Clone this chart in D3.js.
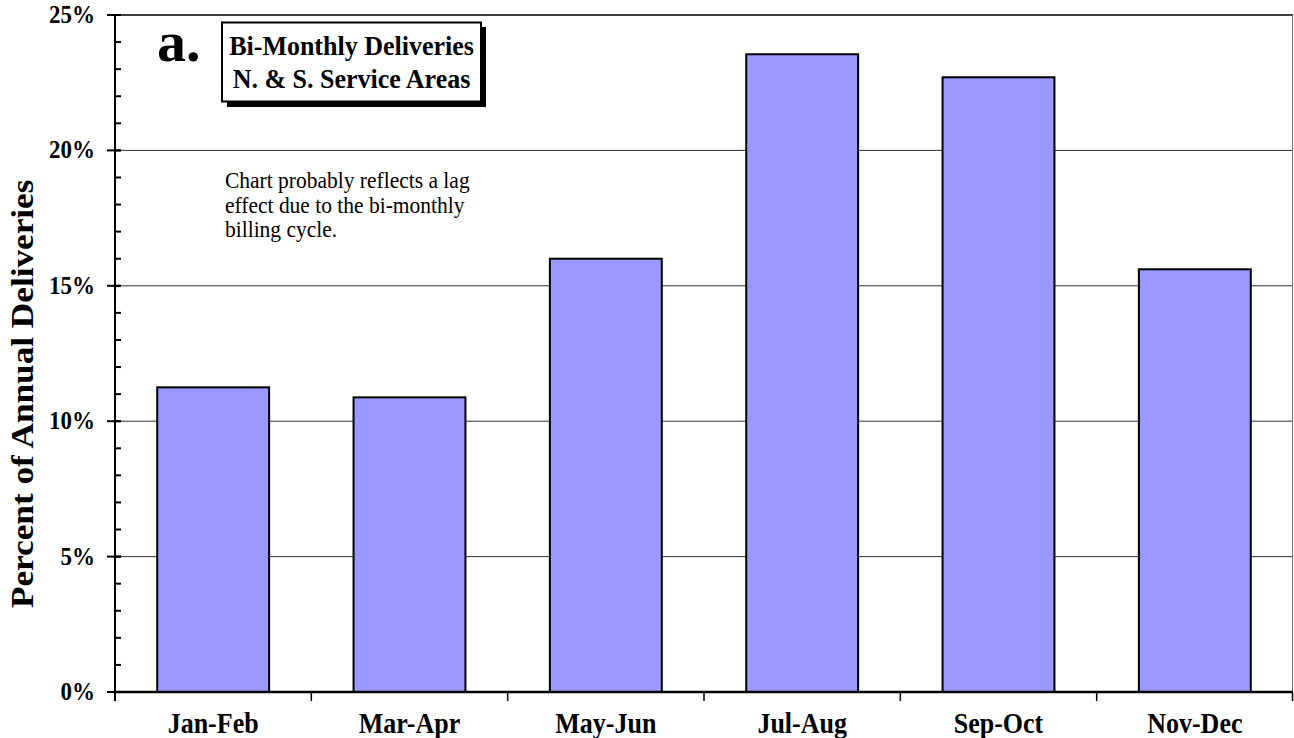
<!DOCTYPE html>
<html>
<head>
<meta charset="utf-8">
<script src="https://cdn.jsdelivr.net/npm/d3@7"></script>
<style>
  body { margin: 0; background: #fff; }
  text { font-family: "Liberation Serif", "Times New Roman", serif; fill: #000; }
</style>
</head>
<body>
<div id="chart"></div>
<script>
var categories = ['Jan-Feb', 'Mar-Apr', 'May-Jun', 'Jul-Aug', 'Sep-Oct', 'Nov-Dec'];
var percentValues = [11.25, 10.88, 16.0, 23.55, 22.7, 15.61];
var majorTicks = [0, 5, 10, 15, 20, 25];
var minorTicks = d3.range(0, 26, 1);
var titleLines = ['Bi-Monthly Deliveries', 'N. & S. Service Areas'];
var noteLines = ['Chart probably reflects a lag', 'effect due to the bi-monthly', 'billing cycle.'];

var W = 1294, H = 738;
var plotLeft = 115, plotRight = 1293, plotTop = 15, plotBottom = 692;

var svg = d3.select('#chart').append('svg')
  .attr('width', W)
  .attr('height', H);

var x = d3.scaleBand()
  .domain(categories)
  .range([plotLeft, plotRight])
  .paddingInner(0.43)
  .paddingOuter(0.215);

var y = d3.scaleLinear()
  .domain([0, 25])
  .range([plotBottom, plotTop]);

// stretched text, the original looks squashed horizontally
function label(g, str, tx, ty, size, weight, anchor, sy) {
  return g.append('text')
    .attr('transform', 'translate(' + tx + ',' + ty + ') scale(1,' + sy + ')')
    .attr('font-size', size + 'px')
    .attr('font-weight', weight)
    .attr('text-anchor', anchor)
    .text(str);
}

// gridlines
svg.selectAll('line.grid')
  .data(majorTicks.filter(function (d) { return d > 0 && d < 25; }))
  .enter()
  .append('line')
  .attr('class', 'grid')
  .attr('x1', plotLeft)
  .attr('x2', plotRight)
  .attr('y1', function (d) { return y(d); })
  .attr('y2', function (d) { return y(d); })
  .attr('stroke', '#333')
  .attr('stroke-width', 1);

// top & right border
svg.append('line')
  .attr('x1', plotLeft).attr('x2', plotRight)
  .attr('y1', y(25)).attr('y2', y(25))
  .attr('stroke', '#000').attr('stroke-width', 1.5);
svg.append('line')
  .attr('x1', plotRight - 0.5).attr('x2', plotRight - 0.5)
  .attr('y1', plotTop).attr('y2', plotBottom)
  .attr('stroke', '#777').attr('stroke-width', 1);

// bars
svg.selectAll('rect.bar')
  .data(percentValues)
  .enter()
  .append('rect')
  .attr('class', 'bar')
  .attr('x', function (d, i) { return x(categories[i]); })
  .attr('y', function (d) { return y(d); })
  .attr('width', x.bandwidth())
  .attr('height', function (d) { return y(0) - y(d); })
  .attr('fill', '#9999ff')
  .attr('stroke', '#000')
  .attr('stroke-width', 2);

// y axis
svg.append('line')
  .attr('x1', plotLeft).attr('x2', plotLeft)
  .attr('y1', plotTop).attr('y2', plotBottom + 9)
  .attr('stroke', '#000').attr('stroke-width', 2);

svg.selectAll('line.minor')
  .data(minorTicks)
  .enter()
  .append('line')
  .attr('class', 'minor')
  .attr('x1', plotLeft).attr('x2', plotLeft + 6)
  .attr('y1', function (d) { return y(d); })
  .attr('y2', function (d) { return y(d); })
  .attr('stroke', '#000').attr('stroke-width', 2);

svg.selectAll('line.major')
  .data(majorTicks)
  .enter()
  .append('line')
  .attr('class', 'major')
  .attr('x1', plotLeft - 8).attr('x2', plotLeft + 6)
  .attr('y1', function (d) { return y(d); })
  .attr('y2', function (d) { return y(d); })
  .attr('stroke', '#000').attr('stroke-width', 2);

majorTicks.forEach(function (d) {
  label(svg, d + '%', 95, y(d) + 8, 23, 'bold', 'end', 1.09);
});

// x axis
svg.append('line')
  .attr('x1', plotLeft - 1).attr('x2', plotRight)
  .attr('y1', plotBottom).attr('y2', plotBottom)
  .attr('stroke', '#000').attr('stroke-width', 2.5);

var bounds = categories.map(function (c) { return x(c) - x.step() * x.paddingInner() / 2; });
bounds.push(plotRight - 0.5);
bounds[0] = plotLeft;
svg.selectAll('line.xtick')
  .data(bounds)
  .enter()
  .append('line')
  .attr('class', 'xtick')
  .attr('x1', function (d) { return d; })
  .attr('x2', function (d) { return d; })
  .attr('y1', plotBottom)
  .attr('y2', plotBottom + 9)
  .attr('stroke', '#000').attr('stroke-width', 1.5);

categories.forEach(function (c) {
  label(svg, c, x(c) + x.bandwidth() / 2, 732.5, 26, 'bold', 'middle', 1.1);
});

// y title
svg.append('text')
  .attr('transform', 'translate(33,608) rotate(-90) scale(1.1,1)')
  .attr('font-size', '32px')
  .attr('font-weight', 'bold')
  .attr('text-anchor', 'start')
  .text('Percent of Annual Deliveries');

// "a." and title box
label(svg, 'a.', 157, 61, 58, 'bold', 'start', 1.0);

svg.append('rect')
  .attr('x', 227).attr('y', 27)
  .attr('width', 259).attr('height', 80)
  .attr('fill', '#000');
svg.append('rect')
  .attr('x', 222).attr('y', 22.5)
  .attr('width', 259).attr('height', 79)
  .attr('fill', '#fff')
  .attr('stroke', '#000')
  .attr('stroke-width', 2);

titleLines.forEach(function (t, i) {
  label(svg, t, 351.5, 55 + i * 32.5, 26, 'bold', 'middle', 1.07);
});

// note
noteLines.forEach(function (t, i) {
  label(svg, t, 225, 188 + i * 24.5, 21.5, 'normal', 'start', 1.05);
});
</script>
</body>
</html>
